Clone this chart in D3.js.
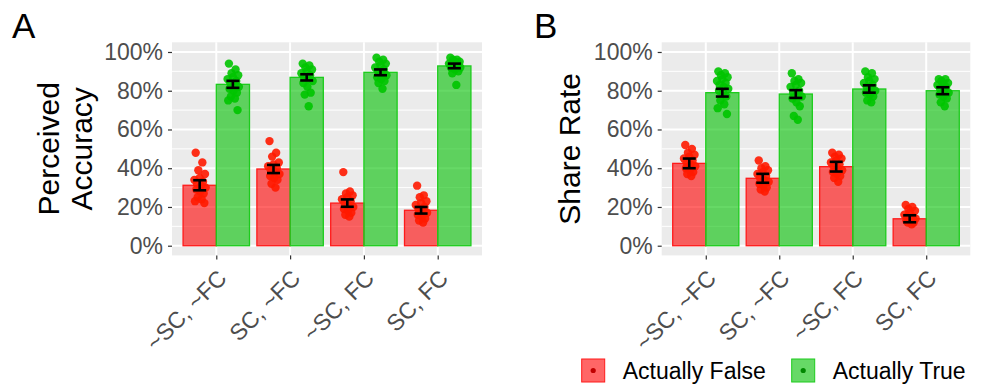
<!DOCTYPE html>
<html>
<head>
<meta charset="utf-8">
<script src="https://cdn.jsdelivr.net/npm/d3@7"></script>
<style>
  body { margin: 0; background: #fff; }
  svg { font-family: "Liberation Sans", Arial, sans-serif; display: block; }
</style>
</head>
<body>
<div class="figure"></div>
<script>
const categories = ["~SC, ~FC", "SC, ~FC", "~SC, FC", "SC, FC"];
const groups = ["Actually False", "Actually True"];
const yTicks = [0, 0.2, 0.4, 0.6, 0.8, 1.0];

// means and standard errors
const accFalseMean = [0.312, 0.396, 0.220, 0.183];
const accTrueMean = [0.833, 0.869, 0.895, 0.928];
const accFalseSE = [0.026, 0.021, 0.019, 0.017];
const accTrueSE = [0.018, 0.016, 0.015, 0.012];
const shareFalseMean = [0.425, 0.348, 0.408, 0.139];
const shareTrueMean = [0.790, 0.783, 0.809, 0.800];
const shareFalseSE = [0.025, 0.023, 0.025, 0.018];
const shareTrueSE = [0.020, 0.020, 0.019, 0.018];

// individual points (percent)
const accFalsePts = [
  [48, 43, 39, 37, 35, 34, 33, 32, 31, 30, 29, 28, 27, 25, 24, 23, 22],
  [54, 48, 46, 43, 42, 41, 40, 39, 38, 37, 36, 35, 34, 32, 30],
  [38, 28, 27, 26, 25, 24, 23, 22, 21, 20, 19, 18, 17, 16, 15],
  [31, 26, 25, 23, 22, 21, 20, 19, 18, 17, 16, 15, 14, 13, 12]
];
const accTruePts = [
  [94, 91, 89, 88, 87, 86, 85, 84, 83, 82, 81, 80, 79, 77, 76, 75, 70],
  [94, 93, 92, 91, 90, 89, 88, 87, 86, 85, 84, 82, 79, 78, 72],
  [97, 96, 95, 94, 93, 92, 91, 90, 89, 88, 87, 86, 85, 84, 81],
  [97, 96, 96, 95, 95, 94, 94, 93, 93, 92, 92, 91, 90, 89, 83]
];
const shareFalsePts = [
  [52, 50, 48, 47, 46, 45, 44, 43, 42, 41, 40, 39, 38, 37, 36],
  [44, 41, 40, 39, 38, 37, 36, 35, 34, 33, 32, 31, 30, 29, 28],
  [48, 47, 46, 45, 44, 43, 42, 41, 40, 39, 38, 37, 36, 35, 33],
  [21, 20, 19, 18, 17, 16, 15, 15, 14, 14, 13, 13, 12, 12, 11]
];
const shareTruePts = [
  [90, 89, 88, 87, 86, 85, 84, 83, 82, 81, 80, 79, 77, 75, 73, 71, 68],
  [89, 86, 85, 84, 83, 82, 80, 79, 78, 77, 76, 74, 72, 67, 65],
  [90, 89, 87, 86, 85, 84, 83, 82, 81, 80, 79, 78, 77, 75, 74],
  [86, 86, 85, 84, 84, 83, 82, 81, 80, 79, 78, 77, 76, 74, 72]
];
// fixed horizontal jitter pattern
const jitter = [-0.6, 0.4, -0.2, 0.8, 0.0, -0.8, 0.5, -0.4, 0.2, 0.9, -0.5, 0.1, 0.6, -0.3, 0.3, -0.7, 0.7];

const colors = { fill: ["#ff0000", "#00c000"], stroke: ["#ff1a1a", "#1ccc1c"], point: ["#ff1a00", "#00c400"], key: ["#c00000", "#008800"] };

const width = 984, height = 384;
const svg = d3.select(".figure").append("svg")
  .attr("width", width).attr("height", height);

const y = d3.scaleLinear().domain([-0.05, 1.05]).range([255.4, 42.3]);

const panels = [
  { letter: "A", lx: 12, left: 172, right: 482, title: ["Perceived", "Accuracy"], titleX: [59, 92],
    means: [accFalseMean, accTrueMean], se: [accFalseSE, accTrueSE], pts: [accFalsePts, accTruePts] },
  { letter: "B", lx: 534, left: 661.7, right: 970.3, title: ["Share Rate"], titleX: [580],
    means: [shareFalseMean, shareTrueMean], se: [shareFalseSE, shareTrueSE], pts: [shareFalsePts, shareTruePts] }
];

panels.forEach(p => {
  const g = svg.append("g");
  const x = d3.scalePoint().domain(categories).range([p.left, p.right]).padding(0.6);
  const step = x.step();
  const sub = d3.scaleBand().domain(groups).range([-0.45 * step, 0.45 * step]).padding(0);
  const bw = sub.bandwidth();

  // panel background
  g.append("rect")
    .attr("x", p.left).attr("y", y.range()[1])
    .attr("width", p.right - p.left).attr("height", y.range()[0] - y.range()[1])
    .attr("fill", "#ebebeb");

  // grid
  const minor = [0.1, 0.3, 0.5, 0.7, 0.9];
  g.selectAll(".minor").data(minor).join("line")
    .attr("x1", p.left).attr("x2", p.right)
    .attr("y1", d => y(d)).attr("y2", d => y(d))
    .attr("stroke", "#fff").attr("stroke-width", 1);
  g.selectAll(".major").data(yTicks).join("line")
    .attr("x1", p.left).attr("x2", p.right)
    .attr("y1", d => y(d)).attr("y2", d => y(d))
    .attr("stroke", "#fff").attr("stroke-width", 2);
  g.selectAll(".vgrid").data(categories).join("line")
    .attr("x1", d => x(d)).attr("x2", d => x(d))
    .attr("y1", y.range()[1]).attr("y2", y.range()[0])
    .attr("stroke", "#fff").attr("stroke-width", 2);

  // bars
  groups.forEach((grp, gi) => {
    g.selectAll(null).data(categories).join("rect")
      .attr("x", d => x(d) + sub(grp))
      .attr("y", (d, i) => y(p.means[gi][i]))
      .attr("width", bw)
      .attr("height", (d, i) => y(0) - y(p.means[gi][i]))
      .attr("fill", colors.fill[gi]).attr("fill-opacity", 0.6)
      .attr("stroke", colors.stroke[gi]).attr("stroke-width", 1.3);
  });

  // points
  groups.forEach((grp, gi) => {
    categories.forEach((cat, ci) => {
      const cx = x(cat) + sub(grp) + bw / 2;
      g.selectAll(null).data(p.pts[gi][ci]).join("circle")
        .attr("cx", (d, k) => cx + jitter[k % jitter.length] * 0.2 * bw)
        .attr("cy", d => y(d / 100))
        .attr("r", 4.2)
        .attr("fill", colors.point[gi]).attr("fill-opacity", 0.9);
    });
  });

  // error bars
  groups.forEach((grp, gi) => {
    categories.forEach((cat, ci) => {
      const cx = x(cat) + sub(grp) + bw / 2;
      const m = p.means[gi][ci], s = p.se[gi][ci];
      const eb = g.append("g").attr("stroke", "#000").attr("stroke-width", 2.6);
      eb.append("line").attr("x1", cx).attr("x2", cx).attr("y1", y(m - s)).attr("y2", y(m + s));
      [m - s, m + s].forEach(v => {
        eb.append("line").attr("x1", cx - 6.5).attr("x2", cx + 6.5).attr("y1", y(v)).attr("y2", y(v));
      });
    });
  });

  // y axis
  const ya = g.append("g").attr("transform", `translate(${p.left},0)`)
    .call(d3.axisLeft(y).tickValues(yTicks).tickFormat(d3.format(".0%")).tickSize(4).tickPadding(5));
  ya.select(".domain").remove();
  ya.selectAll(".tick line").attr("stroke", "#333").attr("stroke-width", 1.2);
  ya.selectAll(".tick text").attr("fill", "#4d4d4d").style("font-size", "23px")
    .style("font-family", "Liberation Sans, Arial, sans-serif");

  // x axis
  const xa = g.append("g").attr("transform", `translate(0,${y.range()[0]})`)
    .call(d3.axisBottom(x).tickSize(4).tickFormat(""));
  xa.select(".domain").remove();
  xa.selectAll(".tick line").attr("stroke", "#333").attr("stroke-width", 1.2);
  g.selectAll(".xlab").data(categories).join("text")
    .attr("transform", d => `translate(${x(d)},268) rotate(-45)`)
    .attr("text-anchor", "end").attr("dy", "0.72em")
    .attr("fill", "#4d4d4d").style("font-size", "23px")
    .text(d => d);

  // y title
  p.title.forEach((t, i) => {
    g.append("text")
      .attr("transform", `translate(${p.titleX[i]},${(y.range()[0] + y.range()[1]) / 2}) rotate(-90)`)
      .attr("text-anchor", "middle")
      .attr("fill", "#000").style("font-size", "30px")
      .text(t);
  });

  // panel letter
  g.append("text").attr("x", p.lx).attr("y", 38)
    .style("font-size", "35px").attr("fill", "#000").text(p.letter);
});

// legend
const legendX = [581.7, 791.7];
const legend = svg.append("g");
groups.forEach((grp, gi) => {
  const lg = legend.append("g").attr("transform", `translate(${legendX[gi]},359)`);
  lg.append("rect").attr("width", 23).attr("height", 23)
    .attr("fill", colors.fill[gi]).attr("fill-opacity", 0.6)
    .attr("stroke", colors.stroke[gi]).attr("stroke-width", 1);
  lg.append("circle").attr("cx", 11.5).attr("cy", 11.5).attr("r", 2.6).attr("fill", colors.key[gi]);
  lg.append("text").attr("x", 41).attr("y", 19.5)
    .attr("fill", "#000").style("font-size", "23px").text(grp);
});
</script>
</body>
</html>
